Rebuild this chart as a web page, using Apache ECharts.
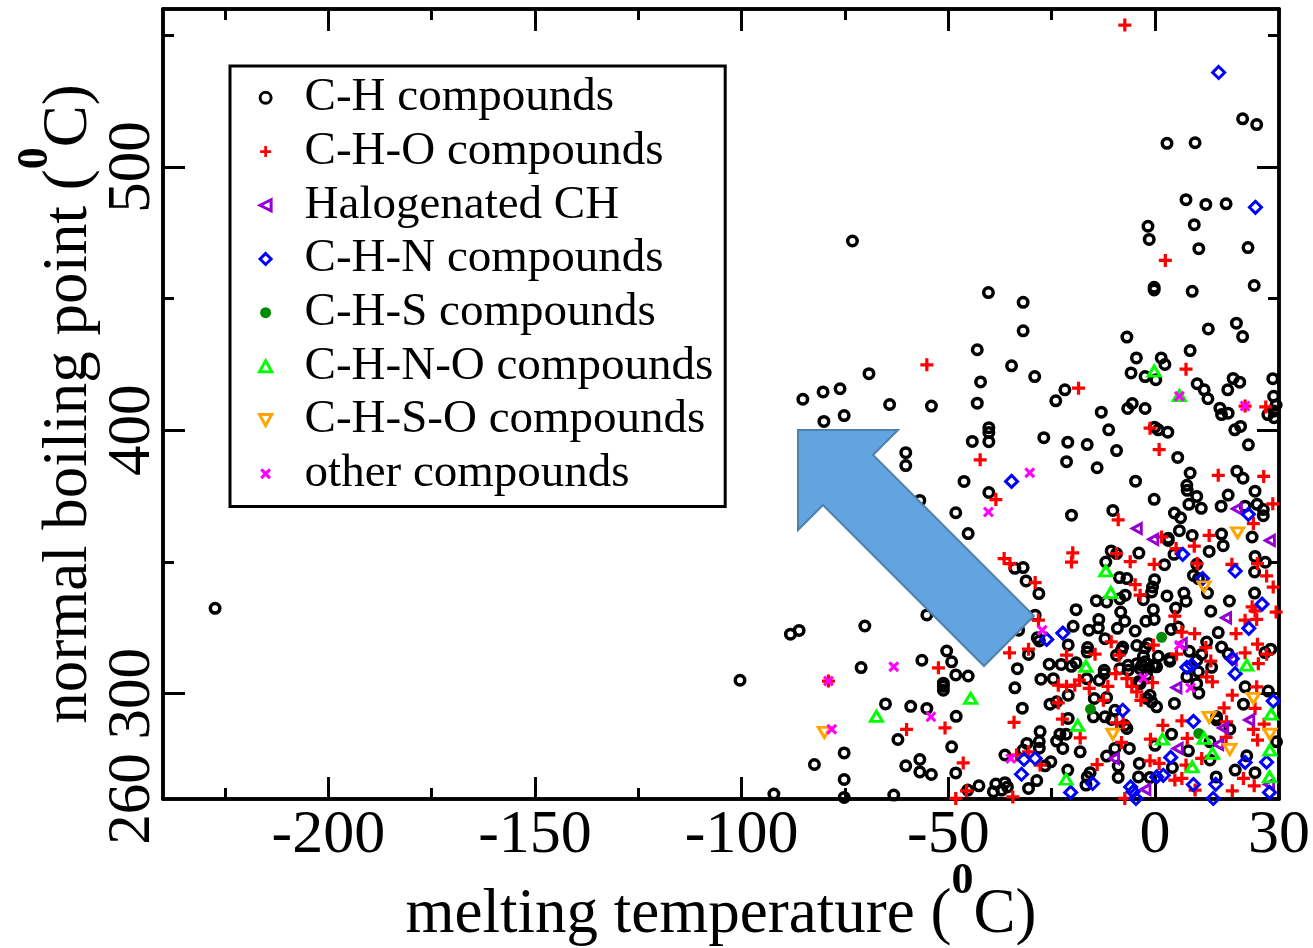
<!DOCTYPE html>
<html>
<head>
<meta charset="utf-8">
<title>melting vs boiling</title>
<script src="https://cdn.jsdelivr.net/npm/echarts@6/dist/echarts.min.js"></script>
<style>
    html, body { margin: 0; padding: 0; background: #fff; }
    #chart { width: 1313px; height: 948px; }
</style>
</head>
<body>
<div id="chart"></div>
<script>
// melting temperature, normal boiling point (both in deg C)
const chPoints = [
    [21.2,518.3],[24.6,516.1],[2.9,509],[9.7,509.2],[7.5,487.6],[12.3,485.8],[17.2,486],[-1.7,477.5],[9.5,478.1],[-1.4,472.5],
    [10.6,469],[22.5,469.4],[-0.2,454.3],[-0.2,453.3],[9,452.8],[24,455],[19.7,440.7],[12.9,438.5],[21.2,435.6],[-6.8,435.4],[8.5,430.3],
    [-73.2,471.9],[-40.3,452.3],[-31.9,448.6],[-31.9,437.8],[-43,430.6],[-34.7,424.5],[-29.1,420.4],[-42.2,418.4],[-69.2,421.5],[-76.2,415.8],
    [-80.3,414.6],[-85.2,411.8],[-64.2,409.8],[-54.1,409.2],[-43,410.3],[-21.8,415.4],[-24,411.2],[-75.2,405.6],[-80.1,403.4],[-40.2,401],
    [-40.2,399.2],[-40.2,395.7],[-44.2,395.8],[-26.9,397.2],[-21.1,395.5],[-60.3,391.5],[-60.3,386.6],[-21.4,388.1],[-46.2,380.6],[-40.2,376.4],
    [-56.9,373.4],[-48.2,368.7],[-45.2,360.8],[-20.2,367.8],[-13,406.9],[-16.4,394.6],[-14,385.8],[-9.3,392.3],[-11.2,400.2],[-4.5,427.5],
    [-5.8,421.8],[-2.4,420.4],[0.2,419.2],[1.5,427.5],[2.4,425],[-5.5,410.2],[-6.6,408.3],[-2.4,408.3],[10.2,417.7],[11.9,415.4],
    [12.8,412],[18.9,419.7],[20.5,418.3],[17.6,415.4],[15.7,408.4],[16.1,406],[17.7,406.5],[28.5,419.6],[28.7,412.9],[29.3,409.6],
    [27.3,406],[28.8,407.3],[28.8,404.8],[19.3,400.2],[20.7,401.5],[22.6,394.5],[-0.1,401.2],[0.8,400.2],[3.1,399.3],[5.5,389.7],
    [8.5,383.8],[19.8,384.5],[21.3,381.8],[-4.7,380.7],[7.7,379.1],[7.8,377.2],[10.1,374.9],[-0.2,373.8],[17.7,375.4],[24.2,376.9],
    [8.2,371.9],[11.2,370.4],[16,371.2],[21.8,371.2],[24.7,371.9],[26.2,369.9],[26.2,367.6],[-10.2,369.6],[4.7,368.6],[6.2,366.8],
    [5.9,361.9],[9,360.1],[16.1,360.6],[23.5,359.5],[3.2,359],[-10.6,354.2],[-9.3,353.2],[-3.9,353.4],[3.2,358.2],[4.6,352.9],
    [16.5,356.2],[13.1,354],[24.2,352.1],[26.7,349.9],[24.1,346.2],[-33.9,347.6],[-31.9,347.9],[-31.2,342.8],[-28.1,338],[-11.9,350],
    [2.3,349],[10.1,349.1],[9.3,344.9],[10.5,343.7],[-0.1,343.3],[-8.6,344.1],[-6.8,343.7],[-0.6,340.5],[-0.8,338.6],[-7.2,337.4],
    [-8.5,336],[-2.8,335.7],[-14.2,335.3],[-11.7,334.8],[2.9,337.1],[7,338.2],[7.5,335.1],[12.7,338.2],[24.1,338.2],[18,335.2],
    [5,332.5],[-0.4,331.9],[13.5,331.3],[-19.1,331.9],[-8.3,331],[-0.2,328.2],[-29,329.8],[-13.6,328.2],[-7.3,327.5],[-2.2,327.5],
    [-19.8,325.6],[-13.7,325],[-16,324.1],[-9.1,324.8],[-4.8,323.8],[3.9,324.4],[5.6,325.3],[15.3,323.2],[-33,324.1],[-28.5,321.2],
    [-28,320],[-12.1,320.9],[-21,318.5],[12.5,319.6],[16.1,317.7],[-16.3,317.5],[-7.8,317.7],[-4.4,318.3],[-1.6,319],[-2.4,317.4],
    [28,316.9],[26.6,315.6],[-30.6,314.9],[-16.4,315.8],[-8.1,316.5],[8.3,316.1],[11.3,314.9],[17.7,315.2],[-9.3,314.6],[0.8,314.2],
    [-2.8,314.2],[3.6,313.3],[10.1,312.7],[-25.6,311.2],[-22.7,311.1],[-19.1,311.7],[-20.2,310.4],[-2.4,312.1],[-6.5,310.8],[-4.4,311.4],
    [-33.3,309.5],[-12.3,308.9],[-0.4,310.8],[-33.9,302.2],[-27.6,305.5],[-24.6,305.7],[-21,299.4],[-25.4,296],[-23.8,296.9],[-32.1,294.5],
    [-16.5,305.7],[-13.5,305.1],[-12.3,307.6],[-14.7,298.2],[-11.7,298.5],[-9.7,293.7],[-14.9,291.2],[-12.1,291.2],[-10.5,290.2],[-21,290.6],
    [-6.8,286.8],[-27.8,285.6],[-23,284.6],[-21.5,284.6],[-28,281.8],[-23.8,282],[-22.3,279.2],[-28,279.3],[-31,281.1],[-18.1,277.9],
    [-36.3,276.7],[-31.9,278.6],[-9.7,279.2],[-6.2,279.2],[-11.7,276.3],[-25.2,274.1],[-26.6,272.6],[-8.9,272.5],[-3.8,273.5],[-21.1,271],
    [-15.7,270],[-16.4,268.4],[-8.9,268.2],[-4,268.4],[-28.6,267],[-36.3,266.2],[-35.7,264.6],[-16.7,265.3],[-30.6,264],[-37.1,263.4],
    [-1.2,299.4],[-2,298.2],[0.4,295],[-0.8,296.9],[4.7,296.3],[10.6,300.2],[10.1,303.8],[21.4,296],[21.8,302.6],[27.4,301],
    [14.9,291.2],[14.9,290],[18.1,286.5],[0,280.4],[4,284.6],[8.1,278.3],[13.3,281.7],[13.3,274.8],[4.2,272],[19.4,271],
    [24.2,270],[22.2,276.4],[29.4,281.7],[14.8,268.4],[-1.2,268.2],[-3.6,303.8],[-6.5,308.9],[-3.6,309.5],[0,310.8],[3.6,312.3],
    [7.7,306.4],[10.5,308.3],[13.7,310],[-86.1,324],[-88.2,322.6],[-70.2,325.7],[-55.2,329.9],[-71.1,309.9],[-56.4,312.7],[-50.4,316.2],
    [-49.2,312.1],[-48.2,307.1],[-45.2,306.7],[-51.2,304],[-51.2,302.8],[-51.2,301.3],[-65.2,296.1],[-59.1,295.2],[-55.2,294.4],[-48.1,291.4],
    [-62.2,282.6],[-49.2,279.8],[-75.2,277.5],[-82.4,273.1],[-60.3,272.6],[-56.9,275],[-56.9,270.3],[-54.1,269.3],[-48.2,269.9],[-75.2,267.4],
    [-92.2,261.9],[-75.2,260.6],[-63.2,261.5],[-45.3,263.4],[-42.6,265],[-39.1,262.8],[-38.5,265.7],[-227.4,332.4],[-100.4,305.1],
    [-3.2,310.8],[0.4,310.2],[-8.5,309.5],[-4,304.5],[-7.3,288],[-1.5,309.6],[-2,307.2]
]
const chOPoints = [
    [-7.3,553.9],[2.5,464.5],[-55.2,424.9],[-42.3,388.8],[-38.5,373.7],[7.5,423.2],[-18.5,416],[26.8,408.9],[-1.2,400.8],[1,392.7],
    [15.3,382.9],[26.3,382.5],[28.5,372.1],[-8.9,366],[23.8,364.6],[13.1,360.1],[1.6,359.5],[-19.9,353.5],[-20.2,350],[-36.5,351.3],
    [-35.1,349.4],[-9.3,353.2],[-6,350.1],[-0.2,349.1],[5.1,355.1],[9.5,356],[10.2,349.4],[18.6,349.1],[24.8,349.4],[27,344.7],
    [28.6,340.5],[-29,342.2],[-4.8,341.4],[-3.6,337.4],[23.5,333],[24.2,331.4],[29.3,331],[4.8,329.4],[21.8,327.9],[24.6,328.2],
    [-28.2,327.9],[6.5,323.4],[9.6,322.8],[19.6,322.8],[-10.6,319.7],[24.8,318.8],[-0.4,318.4],[12.3,317.5],[-14.5,315],[-8.7,314.6],
    [-35.2,315.5],[-30.6,316.9],[-21.4,314.6],[5.2,315],[13.5,312.4],[21.8,315.5],[27,315],[25,311.4],[-23.4,303.2],[-21.4,302.8],
    [-19.4,303.2],[-18.3,305.1],[-15.9,302],[-11.4,302.8],[-9.5,307.6],[-6.8,305.7],[-5.6,302.8],[-4.4,300.7],[-3.4,297.5],[-0.6,304.2],
    [12.5,306.4],[13.9,304.5],[24.6,302.6],[18.7,299.4],[16.7,294.6],[24.2,294.4],[-23.4,296.5],[-12.5,297.5],[-34.1,289.1],[-22.4,290.3],
    [6.5,289.7],[17.3,289.3],[1.9,288],[-9.3,288.9],[-7.7,288.9],[26.4,288.4],[23.8,286.4],[-18.1,283.2],[-8.1,281.5],[-1.1,282.7],
    [7.8,283],[17.2,283.4],[24.8,282.4],[-33.5,276.7],[-30.6,277.9],[-27.8,272.9],[-14,273.1],[-1.2,274.5],[1,273.5],[11.3,275.4],
    [7.5,272.9],[4.8,267.2],[6.5,267.8],[21.4,267.8],[24,265],[18.7,263.1],[-34.4,260.8],[-7.3,260.2],[9.7,263.4],[-52.4,309.8],
    [-60.1,286.4],[-50.8,287],[-46.4,273.7],[-45.6,263.1],[-48.2,260.2],[-79,304.8],[21.8,409.2]
]
const halogenPoints = [
    [19.8,370.2],[-4.4,362.7],[-0.4,358.6],[27.8,358.2],[17.2,328.8],[6.5,319],[18.6,313],[5.2,302.3],[22.8,290],[16.5,287],
    [15.3,280.7],[5.5,279.2],[-9.9,275.4],[-2.3,263.6],[27.6,265.5]
]
const chNPoints = [
    [15.4,535.9],[24.3,484.7],[-34.7,380.6],[22.6,368.1],[6.7,352.9],[19.4,346.6],[11.5,343.7],[25.9,334],[22.7,324.8],[-22.3,323],
    [-26.2,320.6],[18.7,313.3],[8.9,310.8],[7.7,310],[19.4,307.6],[-7.8,293.7],[9.3,289.5],[28.6,297.2],[3.8,275.8],[21.8,273.9],
    [27,274],[-31.7,275],[-29,275.4],[-32.3,269.4],[0.4,268.4],[2,269],[-15.1,265.9],[-20.4,262.5],[9.3,265.5],[14.7,265.6],
    [14.1,260.2],[27.7,262.5],[-5.9,264.6],[-5.3,262.8],[-4.6,260.2]
]
const chSPoints = [
    [1.6,321.4],[-15.6,294.1],[10.6,284.9]
]
const chNOPoints = [
    [-0.2,422.5],[5.9,413.2],[-11.9,346.6],[-10.7,338.4],[-16.7,310.4],[22.2,310.8],[28.1,292.2],[-18.7,288],[1.8,282.7],[11.9,283],
    [13.9,277.3],[27.8,278.6],[9,272.2],[-21.5,267.5],[27.7,268.4],[-44.6,298.2],[-67.4,291.4]
]
const chSOPoints = [
    [20,361.1],[11.9,340.6],[13.1,291],[23.8,298.2],[-10.2,284.6],[27.8,284.6],[18.1,278.8],[-80,285.3]
]
const otherPoints = [
    [-30.3,383.9],[-40.3,369],[5.9,412.9],[21.8,409.2],[-27.3,324.1],[5.9,318.4],[-2.8,306],[8.6,302.2],[-34.9,275.4],[-79,304.8],
    [-63.2,310.2],[-54.2,291.2],[-78.2,286.5]
]

const xMajorTicks = [-200, -150, -100, -50, 0]
const xMinorTicks = [-225, -175, -125, -75, -25]
const xTickLabels = [-200, -150, -100, -50, 0, 30]
const yMajorTicks = [300, 400, 500]
const yMinorTicks = [350, 450, 550]
const yTickLabels = [260, 300, 400, 500]

const serif = 'Liberation Serif'
const plusPath = 'path://M3,0H5V3H8V5H5V8H3V5H0V3H3Z'
const crossPath = 'path://M2,0L5,3L8,0L10,2L7,5L10,8L8,10L5,7L2,10L0,8L3,5L0,2Z'
const diamondPath = 'path://M5,0L10,5L5,10L0,5Z'
const leftPath = 'path://M10,0L0,5L10,10Z'
const upPath = 'path://M5,0L10,9L0,9Z'
const downPath = 'path://M0,0L10,0L5,9Z'

function hollow(color, width) {
    return { color: 'transparent', borderColor: color, borderWidth: width, opacity: 1 }
}

function solid(color) {
    return { color: color, opacity: 1 }
}

function xAxisOf(position, ticks, length, extra) {
    return Object.assign({
        type: 'value',
        min: -240,
        max: 30,
        position: position,
        splitLine: { show: false },
        axisLine: { show: true, onZero: false, lineStyle: { color: '#000', width: 3.5 } },
        axisTick: { show: true, inside: true, length: length, customValues: ticks, lineStyle: { color: '#000', width: 3 } },
        axisLabel: { show: false }
    }, extra)
}

function yAxisOf(position, ticks, length, extra) {
    return Object.assign({
        type: 'value',
        min: 260,
        max: 560,
        position: position,
        splitLine: { show: false },
        axisLine: { show: true, onZero: false, lineStyle: { color: '#000', width: 3.5 } },
        axisTick: { show: true, inside: true, length: length, customValues: ticks, lineStyle: { color: '#000', width: 3 } },
        axisLabel: { show: false }
    }, extra)
}

const chart = echarts.init(document.getElementById('chart'))
chart.setOption({
    backgroundColor: '#fff',
    animation: false,
    grid: { left: 163, top: 9, width: 1116, height: 790, containLabel: false, outerBoundsMode: 'none' },
    legend: {
        left: 230,
        top: 66,
        orient: 'vertical',
        itemWidth: 68,
        itemHeight: 11,
        itemGap: 0,
        padding: [5, 12, 6, 28],
        backgroundColor: '#fff',
        borderColor: '#000',
        borderWidth: 3,
        selectedMode: false,
        textStyle: { fontFamily: serif, fontSize: 47, lineHeight: 53.7, color: '#000' },
        data: [
            { name: 'C-H compounds', itemStyle: { borderWidth: 3 } },
            { name: 'C-H-O compounds' },
            { name: 'Halogenated CH', itemStyle: { borderWidth: 3 } },
            { name: 'C-H-N compounds', itemStyle: { borderWidth: 3 } },
            { name: 'C-H-S compounds' },
            { name: 'C-H-N-O compounds', itemStyle: { borderWidth: 3 } },
            { name: 'C-H-S-O compounds', itemStyle: { borderWidth: 3 } },
            { name: 'other compounds' }
        ]
    },
    xAxis: [
        xAxisOf('bottom', xMajorTicks, 22, {
            name: 'melting temperature ({sup|0}C)',
            nameLocation: 'middle',
            nameGap: 61,
            nameMoveOverlap: false,
            nameTextStyle: {
                fontFamily: serif,
                fontSize: 63,
                color: '#000',
                rich: { sup: { fontFamily: serif, fontSize: 44, fontWeight: 'bold', color: '#000', padding: [0, 0, 66, 0] } }
            },
            axisLabel: {
                show: true,
                customValues: xTickLabels,
                margin: 6,
                hideOverlap: false,
                fontFamily: serif,
                fontSize: 62,
                color: '#000'
            }
        }),
        xAxisOf('bottom', xMinorTicks, 11),
        xAxisOf('top', xMajorTicks, 22),
        xAxisOf('top', xMinorTicks, 11)
    ],
    yAxis: [
        yAxisOf('left', yMajorTicks, 22, {
            name: 'normal boiling point ({sup|0}C)',
            nameLocation: 'middle',
            nameGap: 39,
            nameMoveOverlap: false,
            nameTextStyle: {
                fontFamily: serif,
                fontSize: 63,
                color: '#000',
                rich: { sup: { fontFamily: serif, fontSize: 44, fontWeight: 'bold', color: '#000', padding: [0, 0, 66, 0] } }
            },
            axisLabel: {
                show: true,
                customValues: yTickLabels,
                rotate: 90,
                margin: 0,
                hideOverlap: false,
                fontFamily: serif,
                fontSize: 61,
                color: '#000'
            }
        }),
        yAxisOf('left', yMinorTicks, 11),
        yAxisOf('right', yMajorTicks, 22),
        yAxisOf('right', yMinorTicks, 11)
    ],
    series: [
        { name: 'C-H compounds', type: 'scatter', clip: false, data: chPoints, symbol: 'circle', symbolSize: 9.5, itemStyle: hollow('#000', 3.5) },
        { name: 'C-H-O compounds', type: 'scatter', clip: false, data: chOPoints, symbol: plusPath, symbolSize: 13, itemStyle: solid('#ff0000') },
        { name: 'Halogenated CH', type: 'scatter', clip: false, data: halogenPoints, symbol: leftPath, symbolSize: [9, 10], itemStyle: hollow('#9400d3', 3) },
        { name: 'C-H-N compounds', type: 'scatter', clip: false, data: chNPoints, symbol: diamondPath, symbolSize: 12, itemStyle: hollow('#0000ff', 3) },
        { name: 'C-H-S compounds', type: 'scatter', clip: false, data: chSPoints, symbol: 'circle', symbolSize: 11, itemStyle: solid('#008b00') },
        { name: 'C-H-N-O compounds', type: 'scatter', clip: false, data: chNOPoints, symbol: upPath, symbolSize: [12, 10], itemStyle: hollow('#00ff00', 3) },
        { name: 'C-H-S-O compounds', type: 'scatter', clip: false, data: chSOPoints, symbol: downPath, symbolSize: [12, 10], itemStyle: hollow('#ffa500', 3) },
        { name: 'other compounds', type: 'scatter', clip: false, data: otherPoints, symbol: crossPath, symbolSize: 11, itemStyle: solid('#ff00ff') }
    ],
    graphic: [
        {
            type: 'polygon',
            z: 100,
            shape: { points: [[798, 430], [898, 430], [873, 455], [1034, 616], [984, 666], [823, 505], [798, 530]] },
            style: { fill: '#62a4df', stroke: '#4f81ad', lineWidth: 2 }
        }
    ]
})
</script>
</body>
</html>
